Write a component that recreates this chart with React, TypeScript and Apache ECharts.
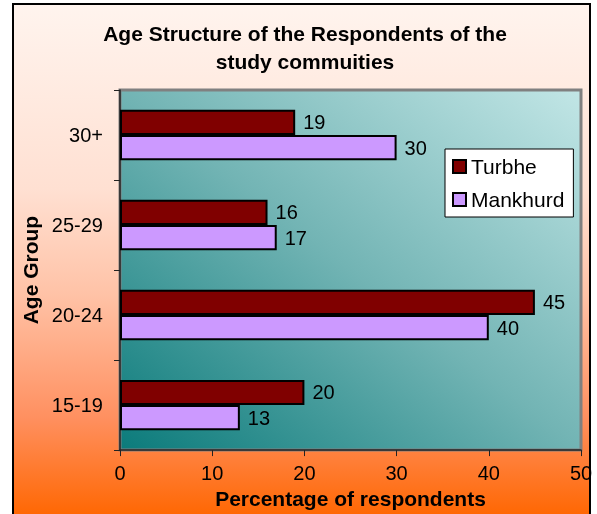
import React, { useEffect, useRef } from "react";
import * as echarts from "echarts";

const categories = ["15-19", "20-24", "25-29", "30+"];
const turbhe = [20, 45, 16, 19];
const mankhurd = [13, 40, 17, 30];
const xTicks = { min: 0, max: 50, interval: 10 };

const FONT = "Liberation Sans, Arial, Helvetica, sans-serif";

export default function App() {
  const ref = useRef<HTMLDivElement>(null);
  useEffect(() => {
    if (!ref.current) return;
    const chart = echarts.init(ref.current, null, { renderer: "svg" });
    const valueLabel = {
      show: true,
      position: "right",
      distance: 8,
      fontFamily: FONT,
      fontSize: 20,
      color: "#000",
    };
    const option = {
      animation: false,
      title: {
        text: "Age Structure of the Respondents of the\nstudy commuities",
        left: 305,
        textAlign: "center",
        top: 19,
        padding: 0,
        textStyle: {
          fontFamily: FONT,
          fontSize: 21,
          fontWeight: "bold",
          color: "#000",
          lineHeight: 28,
        },
      },
      graphic: [
        {
          type: "rect",
          z: -10,
          shape: { x: 13, y: 4, width: 577, height: 530 },
          style: {
            fill: new echarts.graphic.LinearGradient(0, 0, 0, 1, [
              { offset: 0, color: "#FFF4EE" },
              { offset: 0.35, color: "#FFE0D2" },
              { offset: 0.55, color: "#FFC2A6" },
              { offset: 0.78, color: "#FF9060" },
              { offset: 0.97, color: "#FF6600" },
              { offset: 1, color: "#FF6600" },
            ]),
            stroke: "#000",
            lineWidth: 2,
          },
        },
      ],
      legend: {
        orient: "vertical",
        left: 445,
        top: 149,
        data: ["Turbhe", "Mankhurd"],
        backgroundColor: "#fff",
        borderColor: "#000",
        borderWidth: 1,
        borderRadius: 0,
        padding: [7, 9, 7, 7],
        itemGap: 12,
        itemWidth: 13,
        itemHeight: 13,
        icon: "rect",
        textStyle: { fontFamily: FONT, fontSize: 21, color: "#000", padding: [0, 0, 0, 0] },
      },
      grid: {
        left: 120,
        right: 16,
        top: 90,
        bottom: 62,
        show: true,
        borderColor: "#808080",
        borderWidth: 3,
        backgroundColor: new echarts.graphic.LinearGradient(0, 1, 1, 0, [
          { offset: 0, color: "#0B7B7B" },
          { offset: 0.5, color: "#72B4B4" },
          { offset: 1, color: "#C2E6E6" },
        ]),
      },
      xAxis: {
        type: "value",
        min: xTicks.min,
        max: xTicks.max,
        interval: xTicks.interval,
        name: "Percentage of respondents",
        nameLocation: "middle",
        nameGap: 33,
        nameTextStyle: { fontFamily: FONT, fontSize: 21, fontWeight: "bold", color: "#000" },
        axisLine: { show: true, lineStyle: { color: "#222", width: 1.5 } },
        axisTick: { show: true, length: 6, lineStyle: { color: "#222" } },
        splitLine: { show: false },
        axisLabel: { fontFamily: FONT, fontSize: 20, color: "#000", margin: 13 },
      },
      yAxis: {
        type: "category",
        data: categories,
        name: "Age Group",
        nameLocation: "middle",
        nameGap: 77,
        nameRotate: 90,
        nameTextStyle: { fontFamily: FONT, fontSize: 21, fontWeight: "bold", color: "#000" },
        axisLine: { show: true, lineStyle: { color: "#222", width: 1.5 } },
        axisTick: { show: true, length: 6, lineStyle: { color: "#222" } },
        axisLabel: { fontFamily: FONT, fontSize: 20, color: "#000", margin: 17 },
      },
      series: [
        {
          name: "Turbhe",
          type: "bar",
          data: turbhe,
          barGap: "0%",
          barCategoryGap: "44%",
          itemStyle: { color: "#800000", borderColor: "#000", borderWidth: 2 },
          label: valueLabel,
        },
        {
          name: "Mankhurd",
          type: "bar",
          data: mankhurd,
          barGap: "0%",
          barCategoryGap: "44%",
          itemStyle: { color: "#CC99FF", borderColor: "#000", borderWidth: 2 },
          label: valueLabel,
        },
      ],
    };
    chart.setOption(option as any);
    return () => chart.dispose();
  }, []);
  return (
    <div
      ref={ref}
      style={{ position: "fixed", left: 0, top: 0, width: 597, height: 514 }}
    />
  );
}
